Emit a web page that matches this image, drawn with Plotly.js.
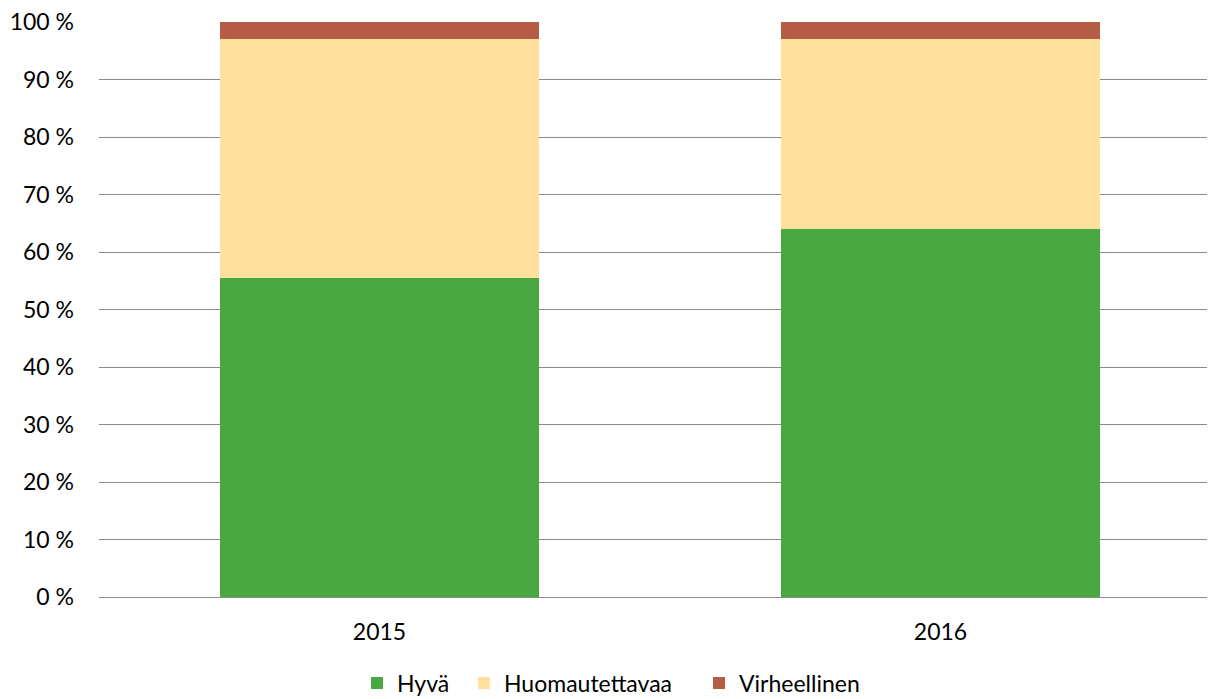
<!DOCTYPE html>
<html>
<head>
<meta charset="utf-8">
<script src="https://cdn.plot.ly/plotly-3.0.1.min.js"></script>
<style>html,body{margin:0;padding:0;background:#fff}#chart{width:1209px;height:699px}</style>
</head>
<body>
<div id="chart"></div>
<script>
var years = ["2015", "2016"];
var hyva = [55.4, 64.0];
var huomautettavaa = [41.6, 33.1];
var virheellinen = [3.0, 2.9];
var seriesNames = ["Hyvä", "Huomautettavaa", "Virheellinen"];
var yTickVals = [0, 10, 20, 30, 40, 50, 60, 70, 80, 90, 100];
var yTickText = ["0 %", "10 %", "20 %", "30 %", "40 %", "50 %", "60 %", "70 %", "80 %", "90 %", "100 %"];

var font = {family: "Lato, Carlito, Calibri, sans-serif", size: 23, color: "#000"};
var legendFont = {family: "Lato, Carlito, Calibri, sans-serif", size: 23, color: "#000"};

var traces = [
  {name: seriesNames[0], x: years, y: hyva, type: "bar", legend: "legend", marker: {color: "#4AA843", line: {width: 0}}},
  {name: seriesNames[1], x: years, y: huomautettavaa, type: "bar", legend: "legend2", marker: {color: "#FFE09D", line: {width: 0}}},
  {name: seriesNames[2], x: years, y: virheellinen, type: "bar", legend: "legend3", marker: {color: "#B45C44", line: {width: 0}}}
];

function leg(px) {
  return {orientation: "h", xref: "container", yref: "container", x: px / 1209, xanchor: "left",
          y: 1 - 683 / 699, yanchor: "middle", font: legendFont, itemwidth: 30, bgcolor: "rgba(0,0,0,0)"};
}

var layout = {
  width: 1209, height: 699,
  barmode: "stack",
  bargap: 0.43,
  margin: {l: 99, r: 2, t: 22, b: 102},
  paper_bgcolor: "#fff", plot_bgcolor: "#fff",
  font: font,
  showlegend: true,
  legend: leg(357),
  legend2: leg(464),
  legend3: leg(699),
  xaxis: {type: "category", range: [-0.5, 1.475], showgrid: false, showline: false, zeroline: false, ticks: "", ticklabelstandoff: 19, tickfont: font, fixedrange: true},
  yaxis: {range: [0, 100], tickvals: yTickVals, ticktext: yTickText, showgrid: true, gridcolor: "#8A8A8A", gridwidth: 1, zeroline: true, zerolinecolor: "#8A8A8A", zerolinewidth: 1, showline: false, ticks: "", ticklabelstandoff: 24, tickfont: font, fixedrange: true}
};

Plotly.newPlot("chart", traces, layout, {displayModeBar: false, staticPlot: true});
</script>
</body>
</html>
